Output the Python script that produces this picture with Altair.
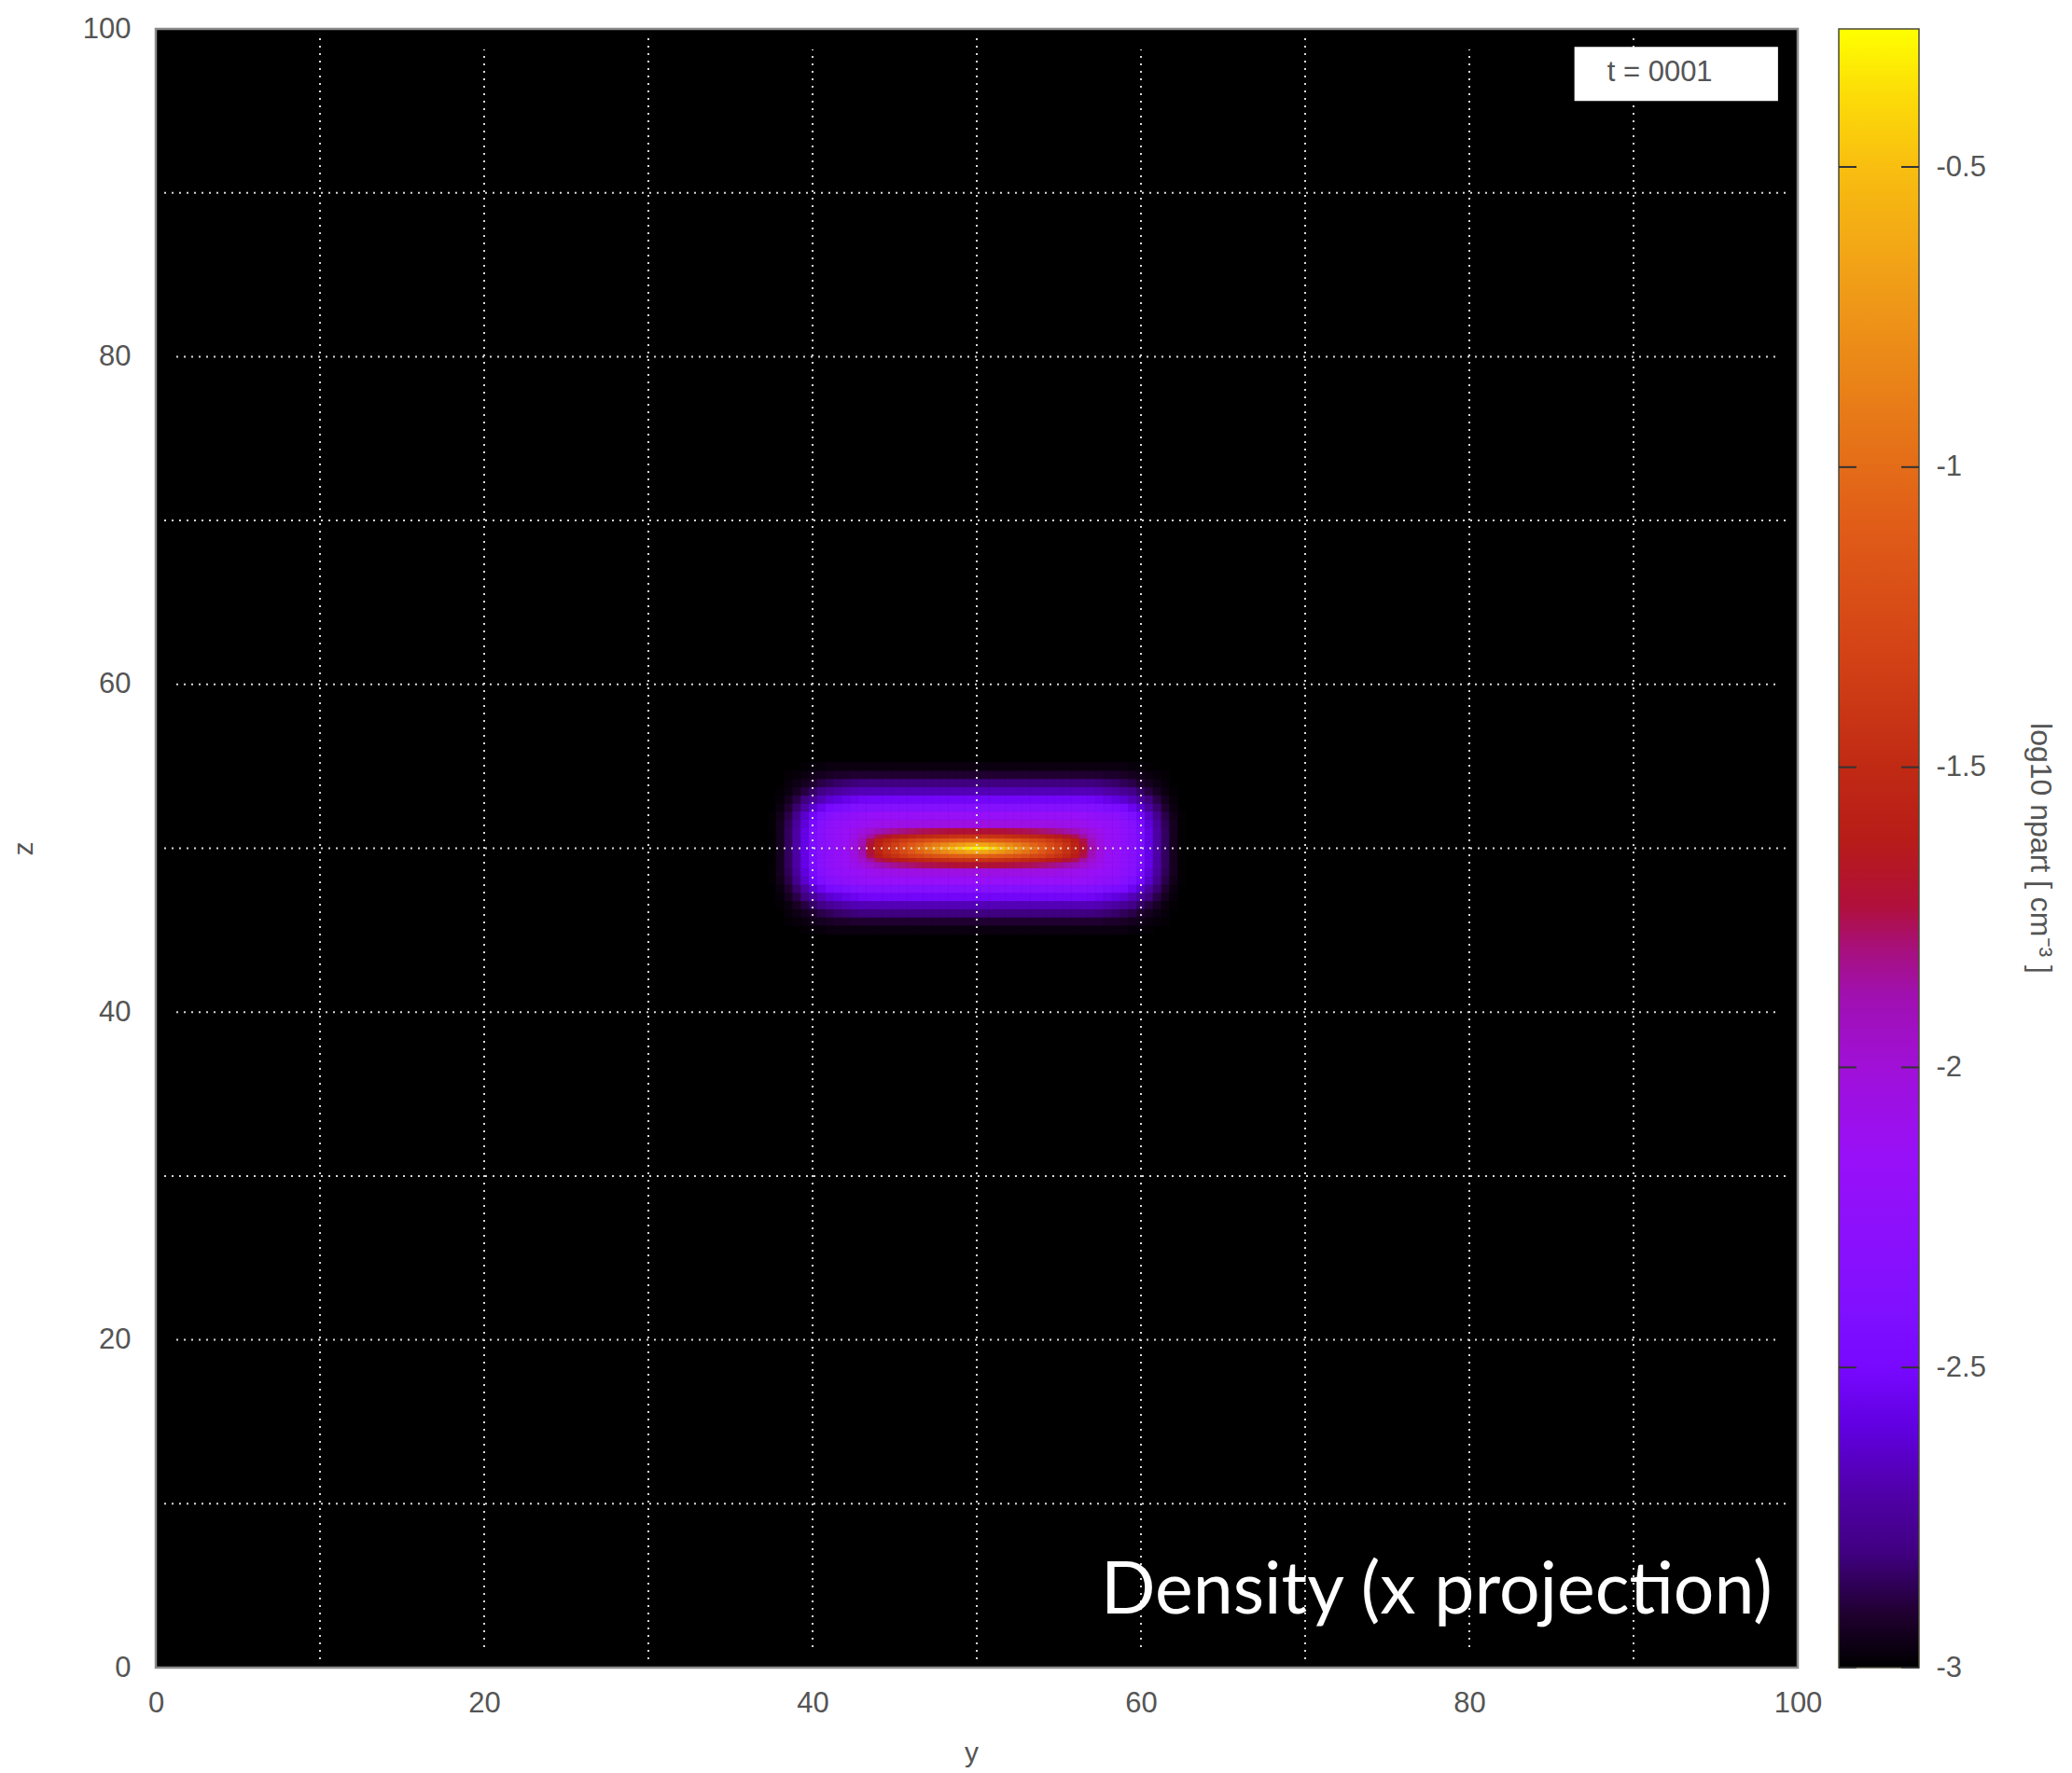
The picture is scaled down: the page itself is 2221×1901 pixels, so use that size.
import altair as alt
import pandas as pd

# ---------------------------------------------------------------------------
# log10 npart of the slab, one quadrant (y >= 50, z >= 50); the slab is
# symmetric about its centre so the other three quadrants are its mirror.
# ---------------------------------------------------------------------------
Y_CENTRE = 50.0
Z_CENTRE = 50.0

# band edges measured outward from the centre
y_band_edges = [0.0, 0.25, 0.75, 1.25, 1.75, 2.25, 2.75, 3.25, 3.75, 4.25, 4.75,
                5.25, 5.75, 6.25, 6.75, 7.25, 7.75, 8.25, 8.75, 9.25, 9.75,
                10.25, 10.75, 11.25, 11.75, 12.25, 12.75]
z_band_edges = [0.0, 0.125, 0.375, 0.625, 0.875, 1.25, 1.75, 2.25, 2.75, 3.25,
                3.75, 4.25, 4.75, 5.25]

# one row per z band, one value per y band
log_npart = [
    [-0.30, -0.35, -0.42, -0.50, -0.60, -0.70, -0.80, -0.92, -1.04, -1.16, -1.28, -1.40, -1.52,
     -1.68, -1.86, -2.02, -2.12, -2.17, -2.24, -2.32, -2.44, -2.58, -2.72, -2.85, -2.94, -2.99],
    [-0.62, -0.65, -0.70, -0.75, -0.82, -0.89, -0.96, -1.05, -1.14, -1.24, -1.34, -1.44, -1.56,
     -1.71, -1.89, -2.04, -2.13, -2.18, -2.24, -2.32, -2.44, -2.58, -2.72, -2.85, -2.94, -2.99],
    [-1.05, -1.06, -1.08, -1.10, -1.13, -1.17, -1.21, -1.26, -1.31, -1.37, -1.44, -1.51, -1.60,
     -1.75, -1.92, -2.05, -2.14, -2.18, -2.24, -2.32, -2.44, -2.58, -2.72, -2.85, -2.94, -2.99],
    [-1.42, -1.42, -1.43, -1.44, -1.46, -1.48, -1.50, -1.53, -1.56, -1.60, -1.64, -1.69, -1.76,
     -1.86, -1.97, -2.07, -2.14, -2.18, -2.24, -2.32, -2.44, -2.58, -2.72, -2.85, -2.94, -2.99],
    [-1.72, -1.72, -1.72, -1.73, -1.74, -1.75, -1.76, -1.77, -1.79, -1.81, -1.84, -1.87, -1.91,
     -1.97, -2.04, -2.10, -2.15, -2.18, -2.24, -2.32, -2.44, -2.58, -2.72, -2.85, -2.94, -2.99],
    [-2.05, -2.05, -2.05, -2.05, -2.05, -2.05, -2.05, -2.05, -2.06, -2.06, -2.07, -2.08, -2.09,
     -2.11, -2.13, -2.15, -2.18, -2.21, -2.27, -2.35, -2.47, -2.61, -2.74, -2.86, -2.94, -2.99],
    [-2.16, -2.16, -2.16, -2.16, -2.16, -2.16, -2.16, -2.16, -2.16, -2.16, -2.16, -2.16, -2.16,
     -2.17, -2.19, -2.22, -2.25, -2.28, -2.34, -2.42, -2.52, -2.64, -2.77, -2.88, -2.95, -2.99],
    [-2.35, -2.35, -2.35, -2.35, -2.35, -2.35, -2.35, -2.35, -2.35, -2.35, -2.35, -2.35, -2.35,
     -2.36, -2.37, -2.39, -2.42, -2.45, -2.49, -2.55, -2.63, -2.73, -2.83, -2.91, -2.97, -3.00],
    [-2.52, -2.52, -2.52, -2.52, -2.52, -2.52, -2.52, -2.52, -2.52, -2.52, -2.52, -2.52, -2.52,
     -2.52, -2.53, -2.55, -2.57, -2.60, -2.63, -2.68, -2.74, -2.81, -2.88, -2.94, -2.98, -3.00],
    [-2.68, -2.68, -2.68, -2.68, -2.68, -2.68, -2.68, -2.68, -2.68, -2.68, -2.68, -2.68, -2.68,
     -2.68, -2.68, -2.69, -2.71, -2.73, -2.76, -2.79, -2.84, -2.89, -2.93, -2.97, -2.99, -3.00],
    [-2.81, -2.81, -2.81, -2.81, -2.81, -2.81, -2.81, -2.81, -2.81, -2.81, -2.81, -2.81, -2.81,
     -2.81, -2.81, -2.82, -2.83, -2.84, -2.86, -2.88, -2.91, -2.94, -2.96, -2.98, -3.00, -3.00],
    [-2.91, -2.91, -2.91, -2.91, -2.91, -2.91, -2.91, -2.91, -2.91, -2.91, -2.91, -2.91, -2.91,
     -2.91, -2.91, -2.91, -2.92, -2.92, -2.93, -2.94, -2.95, -2.97, -2.98, -2.99, -3.00, -3.00],
    [-2.97, -2.97, -2.97, -2.97, -2.97, -2.97, -2.97, -2.97, -2.97, -2.97, -2.97, -2.97, -2.97,
     -2.97, -2.97, -2.97, -2.97, -2.97, -2.97, -2.98, -2.98, -2.99, -3.00, -3.00, -3.00, -3.00],
]

# palette of the colour box (log10 npart -> colour)
cb_stops = [-3.0, -2.91, -2.81, -2.71, -2.6, -2.5, -2.4, -2.15, -2.0, -1.88, -1.8,
            -1.73, -1.62, -1.5, -1.3, -1.1, -0.9, -0.7, -0.5, -0.38, -0.27]
cb_colors = ['#000000', '#200030', '#400080', '#5000a8', '#6000e0', '#7808ff', '#8010ff',
             '#9810f8', '#a010d8', '#a010b0', '#a8107a', '#b0103a', '#b81c18', '#c02a14',
             '#d44416', '#e05c18', '#e87c18', '#f09c18', '#f8be10', '#fcdc08', '#ffff00']
cb_tick_values = [-3.0, -2.5, -2.0, -1.5, -1.0, -0.5]
cb_title = 'log10 npart [ cm⁻³ ]'

axis_ticks = [0, 20, 40, 60, 80, 100]
grid_minor = [10, 30, 50, 70, 90]
grid_major = [20, 40, 60, 80]

time_label = 't = 0001'
time_box = {'y0': 86.4, 'y1': 98.8, 'z0': 95.6, 'z1': 98.9, 'ty': 91.6, 'tz': 97.35}
caption = 'Density (x projection)'
caption_pos = {'y0': 98.45, 'z0': 3.3}

# ---------------------------------------------------------------------------
W, H = 1760, 1757
GREY = '#555555'
TXT_FONT = 'Liberation Sans'
CB_GAP, CB_WIDTH, CB_TICK = 44, 86, 19

cells = []
for i in range(len(z_band_edges) - 1):
    za, zb = z_band_edges[i], z_band_edges[i + 1]
    for j in range(len(y_band_edges) - 1):
        v = log_npart[i][j]
        if v <= -3.0:
            continue
        ya, yb = y_band_edges[j], y_band_edges[j + 1]
        for sy in (1, -1):
            for sz in (1, -1):
                y0, y1 = sorted((Y_CENTRE + sy * ya, Y_CENTRE + sy * yb))
                z0, z1 = sorted((Z_CENTRE + sz * za, Z_CENTRE + sz * zb))
                cells.append({'y0': y0, 'y1': y1, 'z0': z0, 'z1': z1, 'v': v})
cells = pd.DataFrame(cells)

xs = alt.Scale(domain=[0, 100], nice=False, zero=False)
zs = alt.Scale(domain=[0, 100], nice=False, zero=False)
cscale = alt.Scale(domain=cb_stops, range=cb_colors, interpolate='rgb', clamp=True)

x_axis = alt.Axis(values=axis_ticks, grid=False, ticks=False, domain=False,
                  labelFlush=False, labelOverlap=False, labelFont=TXT_FONT, labelFontSize=31,
                  labelColor=GREY, labelBaseline='alphabetic', labelPadding=47,
                  title='y', titleFont=TXT_FONT, titleFontSize=30, titleFontWeight='normal',
                  titleColor=GREY, titleX=874, titleY=100, titleAlign='center',
                  titleBaseline='alphabetic', titleAngle=0)
z_axis = alt.Axis(values=axis_ticks, grid=False, ticks=False, domain=False,
                  labelFlush=False, labelOverlap=False, labelFont=TXT_FONT, labelFontSize=31,
                  labelColor=GREY, labelBaseline='middle', labelPadding=27,
                  title='z', titleFont=TXT_FONT, titleFontSize=30, titleFontWeight='normal',
                  titleColor=GREY, titleX=-133, titleY=H / 2, titleAlign='center',
                  titleBaseline='alphabetic', titleAngle=270)


def X(field):
    return alt.X(field, type='quantitative', scale=xs, axis=x_axis)


def Z(field):
    return alt.Y(field, type='quantitative', scale=zs, axis=z_axis)


heat = alt.Chart(cells).mark_rect(strokeWidth=0.8).encode(
    x=X('y0'), x2='y1',
    y=Z('z0'), y2='z1',
    color=alt.Color('v:Q', scale=cscale, legend=None),
    stroke=alt.Stroke('v:Q', scale=cscale, legend=None),
)

GRID_COL = '#d8d8d8'


def vgrid(values, inset):
    df = pd.DataFrame({'y0': values, 'z0': [0] * len(values), 'z1': [100] * len(values)})
    return alt.Chart(df).mark_rule(
        color=GRID_COL, strokeWidth=2, strokeDash=[2, 6], yOffset=-inset, y2Offset=inset
    ).encode(x=X('y0'), y=Z('z0'), y2='z1')


def hgrid(values, inset):
    df = pd.DataFrame({'z0': values, 'y0': [0] * len(values), 'y1': [100] * len(values)})
    return alt.Chart(df).mark_rule(
        color=GRID_COL, strokeWidth=2, strokeDash=[2, 6], xOffset=inset, x2Offset=-inset
    ).encode(y=Z('z0'), x=X('y0'), x2='y1')


box_df = pd.DataFrame([{**time_box, 'label': time_label}])
key_box = alt.Chart(box_df).mark_rect(fill='white').encode(
    x=X('y0'), x2='y1', y=Z('z0'), y2='z1',
)
key_text = alt.Chart(box_df).mark_text(
    font=TXT_FONT, fontSize=31, color=GREY, align='center', baseline='middle'
).encode(x=X('ty'), y=Z('tz'), text='label:N')

cap_df = pd.DataFrame([{**caption_pos, 'label': caption}])
cap_text = alt.Chart(cap_df).mark_text(
    font='Lato', fontSize=77, color='white', align='right', baseline='alphabetic'
).encode(x=X('y0'), y=Z('z0'), text='label:N')

main = alt.layer(
    heat,
    vgrid(grid_minor, 9), vgrid(grid_major, 22),
    hgrid(grid_minor, 9), hgrid(grid_major, 22),
    key_box, key_text, cap_text,
)

# ---------------------------------------------------------------------------
# colour box: a gradient bar on its own value scale, with inner ticks,
# right-hand labels and a rotated title
# ---------------------------------------------------------------------------
cb_lo, cb_hi = cb_stops[0], cb_stops[-1]
cb_scale = alt.Scale(domain=[cb_lo, cb_hi], nice=False, zero=False)
cb_gradient = alt.LinearGradient(
    gradient='linear', x1=0, y1=1, x2=0, y2=0,
    stops=[alt.GradientStop(offset=(v - cb_lo) / (cb_hi - cb_lo), color=c)
           for v, c in zip(cb_stops, cb_colors)],
)
cb_axis = alt.Axis(orient='right', offset=CB_GAP + CB_WIDTH, values=cb_tick_values,
                   ticks=False, domain=False, grid=False, labelFlush=False,
                   labelOverlap=False, labelPadding=18, labelFont=TXT_FONT,
                   labelFontSize=31, labelColor=GREY, labelBaseline='middle',
                   labelExpr="'' + datum.value", title=None)
cb_left = W + CB_GAP
cb_right = W + CB_GAP + CB_WIDTH

cb_bar = alt.Chart(pd.DataFrame({'lo': [cb_lo], 'hi': [cb_hi]})).mark_rect(
    fill=cb_gradient, stroke='#4a4a3a', strokeWidth=1.5
).encode(
    y=alt.Y('lo:Q', scale=cb_scale, axis=cb_axis), y2='hi:Q',
    x=alt.value(cb_left), x2=alt.value(cb_right),
)
tick_df = pd.DataFrame({'t': cb_tick_values})
cb_ticks_l = alt.Chart(tick_df).mark_rule(color='#333333', strokeWidth=2).encode(
    y=alt.Y('t:Q', scale=cb_scale, axis=cb_axis),
    x=alt.value(cb_left), x2=alt.value(cb_left + CB_TICK),
)
cb_ticks_r = alt.Chart(tick_df).mark_rule(color='#333333', strokeWidth=2).encode(
    y=alt.Y('t:Q', scale=cb_scale, axis=cb_axis),
    x=alt.value(cb_right - CB_TICK), x2=alt.value(cb_right),
)
cb_label = alt.Chart(pd.DataFrame({'label': [cb_title]})).mark_text(
    font=TXT_FONT, fontSize=32, color=GREY, angle=90, align='center', baseline='middle'
).encode(x=alt.value(W + 260), y=alt.value(H / 2), text='label:N')

colour_box = alt.layer(cb_bar, cb_ticks_l, cb_ticks_r, cb_label)

chart = alt.layer(main, colour_box).resolve_scale(
    y='independent'
).properties(
    width=W, height=H,
    autosize=alt.AutoSizeParams(type='none'),
    padding={'left': 167, 'top': 31, 'right': 294, 'bottom': 113},
    background='white',
).configure_view(
    fill='black', stroke='#8a8a8a', strokeWidth=2.5,
)

chart.save('out.html', embed_options={'renderer': 'svg', 'actions': False})
